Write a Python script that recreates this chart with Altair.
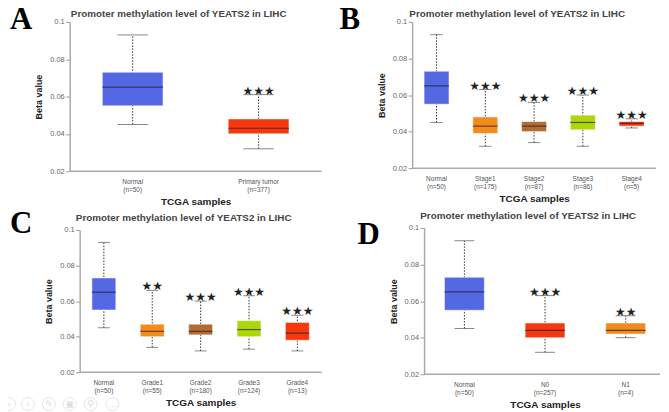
import altair as alt
import pandas as pd

TITLE = "Promoter methylation level of YEATS2 in LIHC"
BLUE, ORANGE, BROWN, GREEN, RED = "#5468e4", "#f28a1c", "#b16c35", "#aed60c", "#f5380f"

labels_a = ["Normal\n(n=50)", "Primary tumor\n(n=377)"]
low_a = [0.045, 0.032]
q1_a = [0.055, 0.040]
med_a = [0.065, 0.043]
q3_a = [0.073, 0.048]
high_a = [0.093, 0.061]
stars_a = ["", "★★★"]
colors_a = [BLUE, RED]

labels_b = ["Normal\n(n=50)", "Stage1\n(n=175)", "Stage2\n(n=87)", "Stage3\n(n=86)", "Stage4\n(n=5)"]
low_b = [0.045, 0.032, 0.034, 0.032, 0.042]
q1_b = [0.055, 0.039, 0.040, 0.041, 0.043]
med_b = [0.065, 0.043, 0.043, 0.045, 0.0445]
q3_b = [0.073, 0.048, 0.0455, 0.049, 0.0455]
high_b = [0.093, 0.063, 0.056, 0.060, 0.047]
stars_b = ["", "★★★", "★★★", "★★★", "★★★"]
colors_b = [BLUE, ORANGE, BROWN, GREEN, RED]

labels_c = ["Normal\n(n=50)", "Grade1\n(n=55)", "Grade2\n(n=180)", "Grade3\n(n=124)", "Grade4\n(n=13)"]
low_c = [0.045, 0.034, 0.032, 0.033, 0.032]
q1_c = [0.055, 0.040, 0.041, 0.040, 0.038]
med_c = [0.065, 0.043, 0.043, 0.044, 0.042]
q3_c = [0.073, 0.047, 0.047, 0.049, 0.048]
high_c = [0.093, 0.066, 0.060, 0.063, 0.052]
stars_c = ["", "★★", "★★★", "★★★", "★★★"]
colors_c = [BLUE, ORANGE, BROWN, GREEN, RED]

labels_d = ["Normal\n(n=50)", "N0\n(n=257)", "N1\n(n=4)"]
low_d = [0.045, 0.032, 0.040]
q1_d = [0.055, 0.040, 0.042]
med_d = [0.065, 0.044, 0.044]
q3_d = [0.073, 0.048, 0.048]
high_d = [0.093, 0.063, 0.052]
stars_d = ["", "★★★", "★★"]
colors_d = [BLUE, RED, ORANGE]

icon_glyphs = ["‹", "›", "✎", "▣", "⚲", "…"]
icon_x = [-61, -42, -21, 0, 21, 43]
LEFT_W, RIGHT_W = 253, 249
TOP_H, BOTTOM_H = 150, 147


def panel(letter, lx, ly, title_y, labels, low, q1, med, q3, high, stars, colors,
          cell_w, cell_h, dx, dy, w, h, box, band_w, icons=False):
    df = pd.DataFrame(dict(cat=labels, low=low, q1=q1, med=med, q3=q3, high=high, stars=stars, color=colors))
    x = alt.X("cat:N", sort=labels, title="TCGA samples",
              scale=alt.Scale(paddingInner=0, paddingOuter=0, range=[dx, dx + band_w]),
              axis=alt.Axis(labelAngle=0, ticks=False, domain=False, offset=-(cell_h - dy - h),
                            labelExpr="split(datum.label,'\\n')", labelFontSize=6.5, labelColor="#555555",
                            labelFont="Liberation Sans", labelPadding=7, labelLineHeight=8,
                            titleFontSize=10, titleFont="Liberation Sans", titleFontWeight="bold",
                            titleColor="#222222", titlePadding=4, grid=False, titleX=dx + band_w / 2))
    yaxis = alt.Axis(values=[0.02, 0.04, 0.06, 0.08, 0.1], format="~g", labelFontSize=7.5, offset=-dx,
                     labelColor="#666666", labelFont="Liberation Sans", tickColor="#999999", tickSize=4,
                     domainColor="#aaaaaa", domainWidth=1.5, grid=False, labelPadding=1.5,
                     titleFontSize=9, titleFont="Liberation Sans", titleFontWeight="bold",
                     titleColor="#222222", titlePadding=6)

    def Y(f):
        return alt.Y(f"{f}:Q", title="Beta value", axis=yaxis,
                     scale=alt.Scale(domain=[0.02, 0.1], range=[dy + h, dy]))

    base = alt.Chart(df).encode(x=x)
    whisk = base.mark_rule(color="#333333", strokeDash=[1.5, 1.5], strokeWidth=1).encode(y=Y("low"), y2="high:Q")
    caps = [base.mark_tick(color="#555555", thickness=1, size=box * 0.5).encode(y=Y(f)) for f in ("low", "high")]
    bars = base.mark_bar(size=box, stroke="#ffffff", strokeOpacity=0.5, strokeWidth=1).encode(
        y=Y("q1"), y2="q3:Q", color=alt.Color("color:N", scale=None))
    mids = base.mark_tick(color="#222222", thickness=1.2, size=box).encode(y=Y("med"))
    star = base.mark_text(font="DejaVu Sans", fontSize=12, baseline="bottom", dy=3, color="#222222").encode(
        y=Y("high"), text="stars:N")
    xline = alt.Chart(pd.DataFrame({"v": [0]})).mark_rule(color="#aaaaaa", strokeWidth=1.5).encode(
        x=alt.value(dx), x2=alt.value(dx + w), y=alt.value(dy + h))
    ttl = alt.Chart(pd.DataFrame({"t": [TITLE]})).mark_text(
        font="Liberation Sans", fontWeight="bold", fontSize=9.9, color="#444444", baseline="middle"
    ).encode(text="t:N", x=alt.value(dx + band_w / 2 - 17), y=alt.value(title_y))
    ltr = alt.Chart(pd.DataFrame({"t": [letter]})).mark_text(
        font="Liberation Serif", fontWeight="bold", fontSize=31, color="#000000", align="left", baseline="alphabetic"
    ).encode(text="t:N", x=alt.value(lx), y=alt.value(ly))
    layers = [whisk, *caps, bars, mids, star, xline, ttl, ltr]
    if icons:
        for g, off in zip(icon_glyphs, icon_x):
            d = pd.DataFrame({"g": [g]})
            layers.append(alt.Chart(d).mark_point(shape="circle", size=170, color="#dcdcdc", strokeWidth=1, filled=False)
                          .encode(x=alt.value(off + 61 - 61), y=alt.value(177)))
            layers.append(alt.Chart(d).mark_text(font="DejaVu Sans", fontSize=9, color="#dcdcdc")
                          .encode(text="g:N", x=alt.value(off), y=alt.value(177)))
    return alt.layer(*layers).properties(width=cell_w, height=cell_h)


A = panel("A", -60, 7, -8, labels_a, low_a, q1_a, med_a, q3_a, high_a, stars_a, colors_a,
          LEFT_W, TOP_H, 0, 0, 253, 150, 61, 253)
B = panel("B", -73, 7, -8, labels_b, low_b, q1_b, med_b, q3_b, high_b, stars_b, colors_b,
          RIGHT_W, TOP_H, 0, 0, 245, 147, 25, 245)
C = panel("C", -60, 5, -10, labels_c, low_c, q1_c, med_c, q3_c, high_c, stars_c, colors_c,
          LEFT_W, BOTTOM_H, 10, 2, 243, 143, 24, 243, icons=True)
D = panel("D", -55, 16, -12, labels_d, low_d, q1_d, med_d, q3_d, high_d, stars_d, colors_d,
          RIGHT_W, BOTTOM_H, 12, 0, 237, 147, 40, 243)

chart = alt.concat(A, B, C, D, columns=2, spacing={"column": 91, "row": 57}, bounds="flush", align="all").properties(
    padding={"left": -8, "top": -5, "right": 0, "bottom": 0}, background="#ffffff"
).configure_view(stroke=None)

chart.save("out.html", embed_options={"renderer": "svg", "actions": False})
